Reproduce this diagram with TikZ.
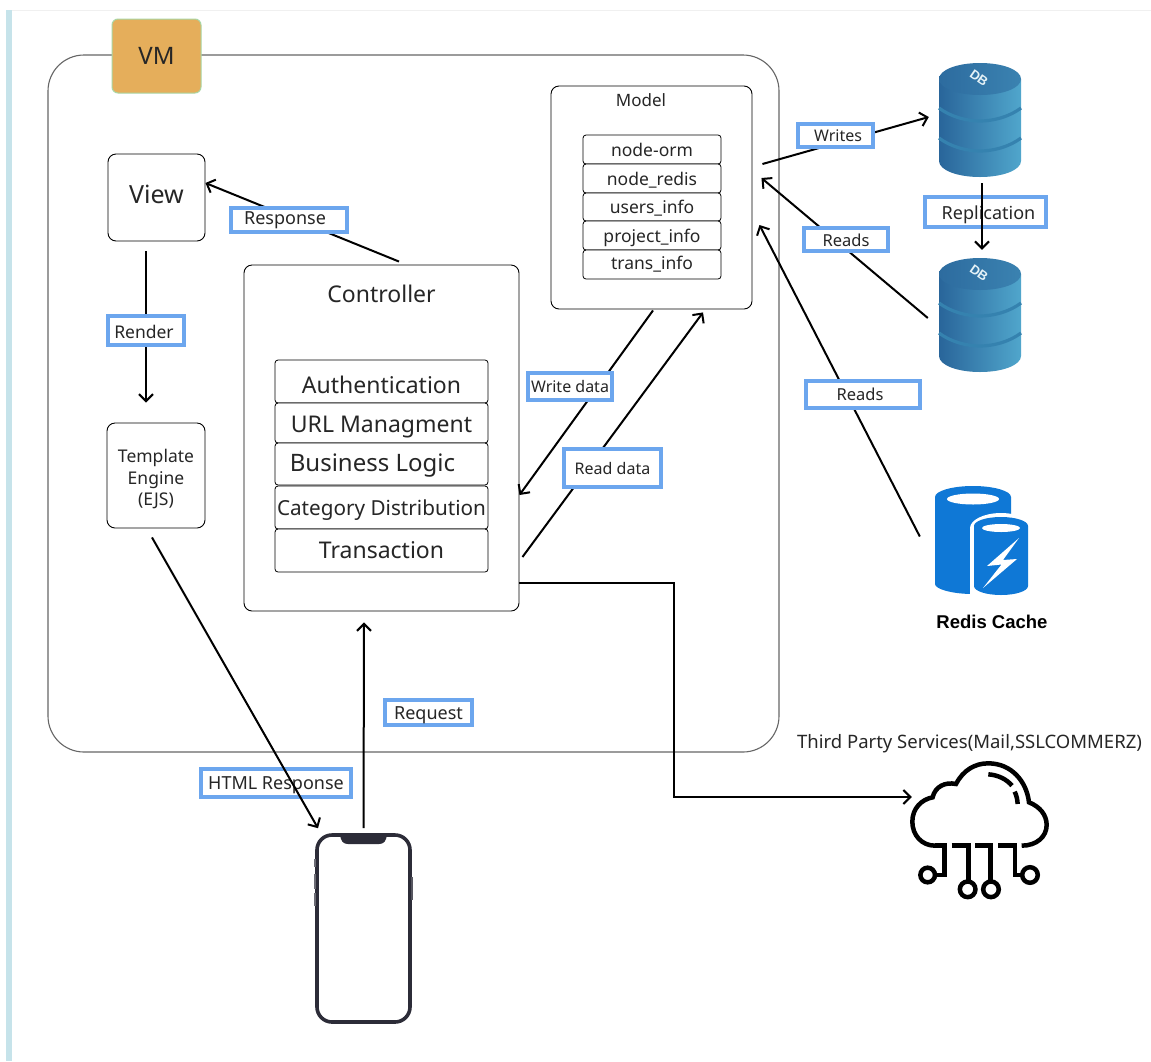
\documentclass[tikz,border=0pt]{standalone}
\usepackage{fontspec}
\setmainfont{Noto Sans}
\newfontfamily\heavyf{Liberation Sans}
\usetikzlibrary{arrows.meta}
\definecolor{lblblue}{HTML}{6CA6EE}
\definecolor{vmfill}{HTML}{E5AE5B}
\definecolor{vmedge}{HTML}{A9D6A4}
\definecolor{strip}{HTML}{C6E3EA}
\definecolor{dbdark}{HTML}{29659A}
\definecolor{dblight}{HTML}{50A6CC}
\definecolor{dbband}{HTML}{3582AF}
\definecolor{redisblue}{HTML}{0F78D6}
\definecolor{phonecol}{HTML}{2C2C38}
\newcommand{\fs}[1]{\fontsize{#1}{#1}\selectfont}
\newcommand{\dn}[2]{\raisebox{-#1pt}[\height][\depth]{#2}}
\tikzset{
  box/.style={draw=black,line width=0.9pt,fill=white,rounded corners=8pt,inner sep=0pt,align=center,text=black!85},
  itembox/.style={box,rounded corners=3pt,line width=0.8pt},
  tag/.style={draw=lblblue,line width=3.6pt,fill=white,inner sep=0pt,text=black!85},
  conn/.style={draw=black,line width=2pt,-{Straight Barb[length=7pt,width=14pt,line width=2pt]}},
  ghost/.style={inner sep=0pt,draw=none},
}
% \bx{style}{name}{x0}{y0}{x1}{y1}{text}
\newcommand{\bx}[7]{%
  \pgfmathsetmacro{\cxx}{(#3+#5)/2}\pgfmathsetmacro{\cyy}{(#4+#6)/2}%
  \pgfmathsetmacro{\www}{#5-#3}\pgfmathsetmacro{\hhh}{#6-#4}%
  \node[#1,minimum width=\www pt,minimum height=\hhh pt] (#2) at (\cxx,\cyy) {#7};}
\newcommand{\dbicon}[2]{%
  \begin{scope}[shift={(#1,#2)}]
    \path[left color=dbdark,right color=dblight]
      (0,16) -- (0,98) .. controls (0,107) and (18,114) .. (41,114)
      .. controls (64,114) and (82,107) .. (82,98) -- (82,16) -- cycle;
    \foreach \by in {45,75}{
      \draw[dbband,line width=3.2pt]
        (0,\by) .. controls (12,{\by+9}) and (28,{\by+13}) .. (41,{\by+13})
        .. controls (54,{\by+13}) and (70,{\by+9}) .. (82,\by);
    }
    \path[left color=dbdark!90!dblight,right color=dbdark!55!dblight]
      (0,16) .. controls (0,7) and (18,0) .. (41,0)
      .. controls (64,0) and (82,7) .. (82,16)
      .. controls (82,25) and (64,32) .. (41,32)
      .. controls (18,32) and (0,25) .. (0,16) -- cycle;
    \node[ghost,text=white!85!dblight,rotate=-35] at (40,15) {\fs{13}\heavyf\bfseries DB};
  \end{scope}}
\begin{document}
\begin{tikzpicture}[x=1pt,y=-1pt]
\useasboundingbox (0,0) rectangle (1151,1061);
\fill[white] (0,0) rectangle (1151,1061);
\fill[strip] (6,10) rectangle (12,1061);
\draw[black!6,line width=1pt] (12,10) -- (1151,10);

% VM frame
\bx{draw=black!60,line width=1.1pt,fill=white,rounded corners=36pt,inner sep=0pt}{vm}{48}{55}{779}{752}{}
\bx{draw=vmedge,line width=1pt,fill=vmfill,rounded corners=6pt,inner sep=0pt,text=black!85}{vmtag}{112}{19}{201}{93}{\fs{24}VM}

% View / template
\bx{box}{view}{108}{154}{205}{241}{\fs{25}\dn{-3}{View}}
\bx{box}{tmpl}{107}{423}{205}{528}{\fontsize{17.5}{21.5}\selectfont\dn{4.5}{\begin{tabular}{@{}c@{}}Template\\Engine\\(EJS)\end{tabular}}}

% Controller
\bx{box}{ctrl}{244}{265}{519}{611}{}
\node[ghost,text=black!85] (ctrltitle) at (381.5,294) {\fs{23}Controller};
\bx{itembox}{auth}{275}{360}{488}{403}{\fs{23}\dn{3}{Authentication}}
\bx{itembox}{url}{275}{403}{488}{443}{\fs{23}\dn{4}{URL Managment}}
\bx{itembox}{logic}{275}{443}{488}{485}{\hspace*{-18pt}\fs{24}\dn{2}{Business Logic}}
\bx{itembox}{cat}{275}{486}{488}{529}{\fs{20.7}\dn{3}{Category Distribution}}
\bx{itembox}{trans}{275}{529}{488}{572}{\fs{23}Transaction}

% Model
\bx{box}{model}{551}{86}{752}{309}{}
\node[ghost,text=black!85] (modeltitle) at (641,100) {\fs{17}Model};
\bx{itembox}{orm}{583}{135}{721}{164}{\fs{17.5}node-orm}
\bx{itembox}{redisi}{583}{164}{721}{193}{\fs{17.5}\dn{2}{node\_redis}}
\bx{itembox}{users}{583}{193}{721}{221}{\fs{17.5}\dn{1}{users\_info}}
\bx{itembox}{proj}{583}{221}{721}{250}{\fs{17.5}\dn{2}{project\_info}}
\bx{itembox}{tinfo}{583}{250}{721}{279}{\fs{17.5}trans\_info}

% DB icons
\dbicon{939}{63}
\dbicon{939}{258}
\bx{ghost}{dba}{939}{63}{1021}{177}{}
\bx{ghost}{dbb}{939}{258}{1021}{371}{}

% Redis icon
\fill[redisblue] (935,497) .. controls (935,491) and (952,486) .. (973,486)
  .. controls (994,486) and (1011,491) .. (1011,497) -- (1011,594) -- (973,594)
  .. controls (952,594) and (935,589) .. (935,584) -- cycle;
\fill[white] (973,499) ellipse[x radius=26,y radius=5.5];
\fill[white] (970,528) .. controls (970,520) and (984,513) .. (1001,513)
  .. controls (1018,513) and (1032,520) .. (1032,528) -- (1032,599) -- (970,599) -- cycle;
\fill[redisblue] (974,526) .. controls (974,521) and (986,517) .. (1001,517)
  .. controls (1016,517) and (1028,521) .. (1028,526) -- (1028,586)
  .. controls (1028,591) and (1016,595) .. (1001,595)
  .. controls (986,595) and (974,591) .. (974,586) -- cycle;
\fill[white] (1001,528) ellipse[x radius=19,y radius=4];
\fill[white] (1019,538) -- (987,566) -- (1001.5,564.5) -- (983,588) -- (1017,559) -- (1003,560) -- cycle;
\bx{ghost}{redis}{935}{486}{1028}{595}{}
\node[ghost,text=black] (redislbl) at (992,622) {\fs{18.5}\heavyf\bfseries Redis Cache};

% Cloud icon
\begin{scope}[shift={(880,740)},x=0.3333pt,y=-0.3333pt,line width=4.5pt,black,line cap=butt]
  \draw (165,317) .. controls (125,317) and (97,285) .. (97,245)
    .. controls (97,205) and (125,178) .. (158,172)
    .. controls (165,140) and (195,125) .. (228,132)
    .. controls (250,90) and (285,70) .. (325,70)
    .. controls (395,70) and (440,125) .. (447,187)
    .. controls (480,200) and (500,225) .. (500,255)
    .. controls (500,290) and (470,317) .. (425,317);
  \draw (325,103) .. controls (355,105) and (380,118) .. (396,137);
  \draw (404,155) .. controls (410,167) and (412,178) .. (413,192);
  \draw (165,317) -- (193,317) -- (193,405) -- (165,405);
  \draw (215,317) -- (265,317) -- (265,425);
  \draw (285,317) -- (332,317) -- (332,425);
  \draw (355,317) -- (405,317) -- (405,405) -- (428,405);
  \draw (143,405) circle[radius=7.3pt];
  \draw (263,448) circle[radius=7.8pt];
  \draw (333,448) circle[radius=7.8pt];
  \draw (450,405) circle[radius=7.8pt];
\end{scope}
\bx{ghost}{cloud}{912}{762}{1048}{900}{}
\node[ghost,text=black!85] (cloudlbl) at (969.5,744) {\fs{18.5}Third Party Services(Mail,SSLCOMMERZ)};

% Phone
\bx{draw=phonecol,line width=3.6pt,fill=white,rounded corners=15pt,inner sep=0pt}{phone}{317}{835}{410}{1022}{}
\fill[phonecol] (340,835) -- (387,835) .. controls (386,841) and (384,844) .. (379,844) -- (348,844) .. controls (343,844) and (341,841) .. (340,835) -- cycle;
\foreach \ya/\yb in {859/867,874/889,893/906}{ \fill[phonecol!70] (314,\ya) rectangle (316,\yb); }
\fill[phonecol!80] (410.5,877) rectangle (412.5,900);

% Connectors under their labels
\draw[conn] ([xshift=17.5,yshift=3]ctrl.north) -- ([yshift=14.5]view.east);
\draw[conn] ([xshift=-10.5,yshift=-10]view.south) -- ([xshift=-10,yshift=20]tmpl.north);
\draw[conn] ([xshift=1.5,yshift=-1]model.south) -- ([yshift=-57]ctrl.east);
\draw[conn] ([xshift=3,yshift=-119]ctrl.east) -- ([xshift=51.5,yshift=-3]model.south);
\draw[conn] ([xshift=10,yshift=33.5]model.east) -- ([xshift=-10,yshift=3]dba.west);
\draw[conn] ([xshift=-11,yshift=-3.5]dbb.west) -- ([xshift=9,yshift=19.5]model.east);
\draw[conn] ([xshift=-15,yshift=4]redis.west) -- ([xshift=7,yshift=-27.5]model.east);
\draw[conn] ([yshift=5]phone.north) -- ([xshift=-17.5,yshift=-11]ctrl.south);
\coordinate (thirdbend) at (674,797);
\draw[conn] ([yshift=-145]ctrl.east) -| (thirdbend) -- ([yshift=34]cloud.west);

% Labels
\bx{tag}{lresp}{231}{208}{347}{232}{\hspace*{-8pt}\fs{18}\dn{0.5}{Response}}
\bx{tag}{lrender}{108}{316}{184}{345}{\hspace*{-4pt}\fs{17.5}\dn{1.5}{Render}}
\bx{tag}{lwrite}{528}{373}{612}{400}{\fs{16}Write data}
\bx{tag}{lread}{564}{449}{661}{487}{\fs{16}Read data}
\bx{tag}{lwrites}{798}{124}{873}{147}{\fs{16}\hspace*{5pt}Writes}
\bx{tag}{lreads}{804}{228}{888}{251}{\fs{16.5}\dn{1}{Reads}}
\bx{tag}{lreads2}{806}{381}{920}{408}{\hspace*{-6pt}\fs{16.5}Reads}
\bx{tag}{lrepl}{925}{197}{1046}{227}{\hspace*{6pt}\fs{18}\dn{3}{Replication}}
\bx{tag}{lreq}{385}{700}{472}{725}{\fs{18}\dn{3}{Request}}
\bx{tag}{lhtml}{201}{769}{351}{797}{\fs{18}\dn{2}{HTML Response}}

% Connectors over their labels
\draw[conn] ([xshift=2,yshift=-6]dba.south) -- ([xshift=2,yshift=8]dbb.north);
\draw[conn] ([xshift=-4,yshift=-9]tmpl.south) -- ([xshift=-45.5,yshift=5]phone.north);
\end{tikzpicture}
\end{document}
